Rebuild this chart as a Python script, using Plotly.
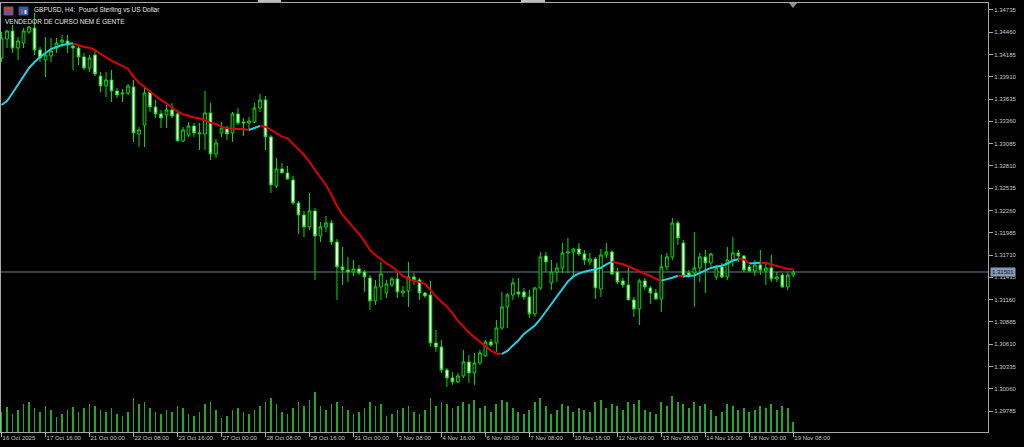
import plotly.graph_objects as go

# ---------------- data ----------------
bar_index = list(range(2, 147))  # H4 bar number counted from 16 Oct 2025 00:00

open_ = [1.34142, 1.34377, 1.34476, 1.34265, 1.34327, 1.34463, 1.34512, 1.34241, 1.34118, 1.34167,
         1.34265, 1.34339, 1.34352, 1.34290, 1.34265, 1.34155, 1.34019, 1.34179, 1.33920, 1.33797,
         1.33871, 1.33735, 1.33698, 1.33710, 1.33785, 1.33205, 1.33315, 1.33722, 1.33538, 1.33452,
         1.33439, 1.33501, 1.33452, 1.33118, 1.33192, 1.33303, 1.33205, 1.33205, 1.33464, 1.32958,
         1.33217, 1.33278, 1.33217, 1.33452, 1.33352, 1.33340, 1.33352, 1.33525, 1.33624, 1.33168,
         1.32563, 1.32773, 1.32723, 1.32637, 1.32353, 1.32205, 1.32057, 1.32255, 1.31946, 1.32057,
         1.32106, 1.31871, 1.31564, 1.31526, 1.31501, 1.31539, 1.31501, 1.31427, 1.31144, 1.31317,
         1.31242, 1.31341, 1.31415, 1.31242, 1.31267, 1.31440, 1.31403, 1.31242, 1.31217, 1.30625,
         1.30576, 1.30292, 1.30193, 1.30144, 1.30218, 1.30391, 1.30255, 1.30379, 1.30465, 1.30637,
         1.30625, 1.30810, 1.31070, 1.31217, 1.31254, 1.31254, 1.31193, 1.30984, 1.31304, 1.31699,
         1.31366, 1.31501, 1.31551, 1.31736, 1.31748, 1.31785, 1.31724, 1.31625, 1.31662, 1.31292,
         1.31711, 1.31748, 1.31501, 1.31391, 1.31341, 1.31156, 1.31045, 1.31391, 1.31304, 1.31242,
         1.31168, 1.31564, 1.31687, 1.32106, 1.31859, 1.31489, 1.31489, 1.31551, 1.31687, 1.31613,
         1.31440, 1.31564, 1.31440, 1.31650, 1.31736, 1.31699, 1.31564, 1.31514, 1.31588, 1.31514,
         1.31551, 1.31415, 1.31464, 1.31317, 1.31464]

high = [1.34463, 1.34488, 1.34549, 1.34402, 1.34512, 1.34537, 1.34698, 1.34278, 1.34402, 1.34389,
        1.34389, 1.34426, 1.34426, 1.34327, 1.34302, 1.34204, 1.34179, 1.34241, 1.33969, 1.33969,
        1.33994, 1.33772, 1.33760, 1.33822, 1.33871, 1.33291, 1.33772, 1.33747, 1.33624, 1.33501,
        1.33562, 1.33587, 1.33501, 1.33291, 1.33352, 1.33340, 1.33340, 1.33735, 1.33587, 1.33143,
        1.33352, 1.33303, 1.33476, 1.33525, 1.33402, 1.33415, 1.33587, 1.33698, 1.33673, 1.33192,
        1.32908, 1.32847, 1.32810, 1.32686, 1.32378, 1.32255, 1.32476, 1.32291, 1.32118, 1.32193,
        1.32143, 1.31909, 1.31810, 1.31687, 1.31650, 1.31588, 1.31526, 1.31464, 1.31403, 1.31625,
        1.31403, 1.31440, 1.31489, 1.31329, 1.31625, 1.31489, 1.31427, 1.31254, 1.31391, 1.30786,
        1.30662, 1.30317, 1.30267, 1.30255, 1.30539, 1.30477, 1.30502, 1.30539, 1.30662, 1.30675,
        1.30909, 1.31254, 1.31242, 1.31427, 1.31427, 1.31304, 1.31279, 1.31317, 1.31748, 1.31748,
        1.31650, 1.31613, 1.31859, 1.31921, 1.31797, 1.31859, 1.31773, 1.31736, 1.31687, 1.31785,
        1.31859, 1.31773, 1.31551, 1.31427, 1.31551, 1.31193, 1.31415, 1.31427, 1.31329, 1.31292,
        1.31711, 1.31736, 1.32168, 1.32131, 1.31896, 1.31526, 1.31995, 1.31736, 1.31773, 1.31736,
        1.31588, 1.31613, 1.31810, 1.31934, 1.31773, 1.31711, 1.31588, 1.31650, 1.31773, 1.31625,
        1.31711, 1.31501, 1.31489, 1.31489, 1.31526]

low = [1.34093, 1.34265, 1.34204, 1.34118, 1.34265, 1.34439, 1.34179, 1.34093, 1.33908, 1.34093,
       1.34204, 1.34278, 1.34204, 1.33994, 1.34056, 1.33994, 1.33969, 1.33920, 1.33722, 1.33661,
       1.33599, 1.33648, 1.33599, 1.33685, 1.33105, 1.33044, 1.33044, 1.33476, 1.33402, 1.33278,
       1.33278, 1.33402, 1.33118, 1.33105, 1.33168, 1.33168, 1.33007, 1.33007, 1.32884, 1.32908,
       1.33168, 1.33130, 1.33105, 1.33315, 1.33180, 1.33254, 1.33340, 1.33476, 1.33007, 1.32476,
       1.32538, 1.32723, 1.32637, 1.32328, 1.31971, 1.31934, 1.32020, 1.31403, 1.31871, 1.31995,
       1.31834, 1.31156, 1.31341, 1.31378, 1.31452, 1.31464, 1.31254, 1.31033, 1.31094, 1.31156,
       1.31180, 1.31317, 1.31180, 1.31193, 1.31070, 1.31341, 1.31156, 1.31180, 1.30576, 1.30514,
       1.30255, 1.30083, 1.30107, 1.30132, 1.30193, 1.30132, 1.30107, 1.30354, 1.30453, 1.30576,
       1.30514, 1.30786, 1.30810, 1.31156, 1.31193, 1.31156, 1.30934, 1.30947, 1.31279, 1.31501,
       1.31279, 1.31378, 1.31489, 1.31489, 1.31440, 1.31699, 1.31588, 1.31588, 1.31168, 1.31193,
       1.31674, 1.31464, 1.31354, 1.31304, 1.31156, 1.30947, 1.30847, 1.31279, 1.31107, 1.31156,
       1.31008, 1.31526, 1.31650, 1.31834, 1.31427, 1.31427, 1.31070, 1.31378, 1.31242, 1.31564,
       1.31403, 1.31427, 1.31403, 1.31564, 1.31625, 1.31501, 1.31501, 1.31452, 1.31464, 1.31341,
       1.31378, 1.31378, 1.31304, 1.31279, 1.31440]

close = [1.34389, 1.34476, 1.34265, 1.34352, 1.34476, 1.34525, 1.34241, 1.34142, 1.34179, 1.34229,
         1.34327, 1.34364, 1.34302, 1.34265, 1.34155, 1.34019, 1.34142, 1.33945, 1.33797, 1.33871,
         1.33735, 1.33685, 1.33710, 1.33797, 1.33217, 1.33254, 1.33710, 1.33538, 1.33452, 1.33402,
         1.33501, 1.33427, 1.33118, 1.33254, 1.33303, 1.33217, 1.33217, 1.33464, 1.32958, 1.33093,
         1.33278, 1.33205, 1.33452, 1.33340, 1.33340, 1.33365, 1.33525, 1.33624, 1.33168, 1.32575,
         1.32773, 1.32723, 1.32649, 1.32353, 1.32205, 1.32057, 1.32255, 1.31946, 1.32057, 1.32106,
         1.31871, 1.31564, 1.31526, 1.31501, 1.31539, 1.31489, 1.31440, 1.31144, 1.31317, 1.31477,
         1.31354, 1.31415, 1.31254, 1.31267, 1.31440, 1.31403, 1.31242, 1.31205, 1.30625, 1.30576,
         1.30292, 1.30193, 1.30144, 1.30218, 1.30391, 1.30255, 1.30379, 1.30502, 1.30637, 1.30600,
         1.30810, 1.31070, 1.31217, 1.31366, 1.31230, 1.31193, 1.30984, 1.31304, 1.31687, 1.31625,
         1.31501, 1.31551, 1.31736, 1.31748, 1.31785, 1.31724, 1.31650, 1.31662, 1.31304, 1.31711,
         1.31748, 1.31477, 1.31378, 1.31341, 1.31156, 1.31045, 1.31391, 1.31317, 1.31242, 1.31168,
         1.31564, 1.31687, 1.32106, 1.31921, 1.31452, 1.31452, 1.31551, 1.31687, 1.31613, 1.31724,
         1.31551, 1.31440, 1.31650, 1.31736, 1.31699, 1.31526, 1.31514, 1.31588, 1.31526, 1.31551,
         1.31415, 1.31440, 1.31317, 1.31464, 1.31501]

ma_values = [1.33562, 1.33612, 1.33710, 1.33809, 1.33920, 1.34019, 1.34093, 1.34155, 1.34204, 1.34253,
             1.34278, 1.34302, 1.34315, 1.34323, 1.34302, 1.34278, 1.34269, 1.34241, 1.34192, 1.34146,
             1.34109, 1.34077, 1.34044, 1.34007, 1.33912, 1.33834, 1.33788, 1.33726, 1.33677, 1.33624,
             1.33583, 1.33529, 1.33480, 1.33448, 1.33427, 1.33408, 1.33398, 1.33368, 1.33344, 1.33328,
             1.33294, 1.33274, 1.33272, 1.33267, 1.33262, 1.33254, 1.33282, 1.33303, 1.33294, 1.33254,
             1.33213, 1.33171, 1.33151, 1.33089, 1.33015, 1.32945, 1.32863, 1.32760, 1.32665, 1.32575,
             1.32451, 1.32316, 1.32205, 1.32131, 1.32057, 1.31971, 1.31884, 1.31773, 1.31711, 1.31662,
             1.31606, 1.31569, 1.31514, 1.31452, 1.31415, 1.31394, 1.31382, 1.31354, 1.31279, 1.31197,
             1.31135, 1.31074, 1.30992, 1.30897, 1.30827, 1.30753, 1.30696, 1.30642, 1.30580, 1.30531,
             1.30496, 1.30490, 1.30527, 1.30595, 1.30656, 1.30736, 1.30786, 1.30841, 1.30921, 1.31014,
             1.31094, 1.31187, 1.31292, 1.31384, 1.31446, 1.31483, 1.31505, 1.31520, 1.31535, 1.31551,
             1.31594, 1.31629, 1.31614, 1.31597, 1.31569, 1.31541, 1.31514, 1.31485, 1.31452, 1.31417,
             1.31394, 1.31409, 1.31430, 1.31455, 1.31449, 1.31452, 1.31458, 1.31489, 1.31517, 1.31551,
             1.31569, 1.31578, 1.31606, 1.31643, 1.31659, 1.31655, 1.31606, 1.31610, 1.31614, 1.31611,
             1.31593, 1.31576, 1.31558, 1.31538, 1.31534]

tick_volume = [20000, 25000, 18000, 22000, 28000, 30000, 24000, 20000, 26000, 22000,
               15000, 18000, 22000, 25000, 20000, 24000, 28000, 26000, 22000, 20000,
               24000, 18000, 16000, 20000, 34000, 28000, 30000, 24000, 20000, 18000,
               22000, 20000, 26000, 24000, 18000, 16000, 20000, 28000, 30000, 22000,
               14000, 16000, 22000, 24000, 20000, 18000, 22000, 26000, 30000, 34000,
               28000, 20000, 18000, 24000, 30000, 26000, 32000, 40000, 26000, 22000,
               28000, 30000, 26000, 22000, 18000, 20000, 24000, 30000, 26000, 28000,
               16000, 18000, 22000, 24000, 26000, 20000, 18000, 22000, 34000, 26000,
               30000, 28000, 24000, 26000, 30000, 28000, 32000, 24000, 26000, 20000,
               28000, 32000, 30000, 24000, 20000, 18000, 22000, 30000, 34000, 26000,
               18000, 22000, 28000, 26000, 20000, 24000, 22000, 20000, 30000, 32000,
               24000, 28000, 26000, 22000, 30000, 28000, 32000, 22000, 20000, 18000,
               30000, 26000, 36000, 30000, 28000, 24000, 30000, 26000, 28000, 22000,
               16000, 20000, 28000, 26000, 22000, 24000, 20000, 22000, 26000, 24000,
               28000, 22000, 26000, 24000, 10000]

time_tick_index = [2, 10, 18, 26, 34, 42, 50, 58, 66, 74, 82, 90, 98, 106, 114, 122, 130, 138, 146]
time_tick_labels = ["16 Oct 2025", "17 Oct 16:00", "21 Oct 00:00", "22 Oct 08:00", "23 Oct 16:00",
                    "27 Oct 00:00", "28 Oct 08:00", "29 Oct 16:00", "31 Oct 00:00", "3 Nov 08:00",
                    "4 Nov 16:00", "6 Nov 00:00", "7 Nov 08:00", "10 Nov 16:00", "12 Nov 00:00",
                    "13 Nov 08:00", "14 Nov 16:00", "18 Nov 00:00", "19 Nov 08:00"]

price_ticks = [1.34735, 1.34460, 1.34185, 1.33910, 1.33635, 1.33360, 1.33085, 1.32810, 1.32535, 1.32260,
               1.31985, 1.31710, 1.31435, 1.31160, 1.30885, 1.30610, 1.30335, 1.30060, 1.29785]

current_price = 1.31501
symbol_title = "GBPUSD, H4:  Pound Sterling vs US Dollar"
comment_text = "VENDEDOR DE CURSO NEM É GENTE"

# ---------------- styling ----------------
BG = "#000000"
CANDLE = "#00e000"
VOLUME = "#22a822"
MA_UP = "#1fd3e3"
MA_DOWN = "#e00000"
AXIS = "#a8a8a8"
TEXT = "#c8c8c8"
FONT = "Liberation Sans"

W, H = 1024, 447
ML, MR, MT, MB = 1, 36, 3, 15
PW, PH = W - ML - MR, H - MT - MB


def px_x(px):
    return (px - ML) / PW


def px_y(py):
    return (H - MB - py) / PH


fig = go.Figure()

fig.add_trace(go.Bar(
    x=bar_index, y=tick_volume, yaxis="y2", width=0.16,
    marker=dict(color=VOLUME, line=dict(width=0)), hoverinfo="skip", showlegend=False))

fig.add_trace(go.Candlestick(
    x=bar_index, open=open_, high=high, low=low, close=close,
    increasing=dict(line=dict(color=CANDLE, width=1), fillcolor="#000000"),
    decreasing=dict(line=dict(color=CANDLE, width=1), fillcolor="#ffffff"),
    whiskerwidth=0, showlegend=False))

# moving average, coloured by direction
segments = []
for k in range(len(ma_values) - 1):
    col = MA_UP if ma_values[k + 1] > ma_values[k] else MA_DOWN
    if segments and segments[-1][0] == col:
        segments[-1][1].append(k + 1)
    else:
        segments.append([col, [k, k + 1]])
for col, idxs in segments:
    fig.add_trace(go.Scatter(
        x=[bar_index[j] for j in idxs], y=[ma_values[j] for j in idxs],
        mode="lines", line=dict(color=col, width=2), hoverinfo="skip", showlegend=False))

shapes = [
    dict(type="line", xref="paper", yref="y", x0=0, x1=1, y0=current_price, y1=current_price,
         line=dict(color="#6e7f90", width=1), layer="below"),
    # chart-shift marker
    dict(type="path", xref="paper", yref="paper",
         path=f"M {px_x(789)} {px_y(3)} L {px_x(797)} {px_y(3)} L {px_x(793)} {px_y(8)} Z",
         fillcolor="#909090", line=dict(width=0)),
    # small window icons next to the title
    dict(type="rect", xref="paper", yref="paper", x0=px_x(4), x1=px_x(13), y0=px_y(15), y1=px_y(7),
         fillcolor="#c8442f", line=dict(color="#3a5cc0", width=1)),
    dict(type="line", xref="paper", yref="paper", x0=px_x(6), x1=px_x(11), y0=px_y(10), y1=px_y(10),
         line=dict(color="#3a5cc0", width=1)),
    dict(type="line", xref="paper", yref="paper", x0=px_x(6), x1=px_x(11), y0=px_y(12.5), y1=px_y(12.5),
         line=dict(color="#3a5cc0", width=1)),
    dict(type="rect", xref="paper", yref="paper", x0=px_x(19), x1=px_x(28), y0=px_y(15), y1=px_y(7),
         fillcolor="#2f5ca8", line=dict(color="#2f5ca8", width=1)),
    dict(type="rect", xref="paper", yref="paper", x0=px_x(21), x1=px_x(23), y0=px_y(14), y1=px_y(9),
         fillcolor="#d04a3a", line=dict(width=0)),
    dict(type="rect", xref="paper", yref="paper", x0=px_x(24.5), x1=px_x(26.5), y0=px_y(14), y1=px_y(10),
         fillcolor="#e8e8e8", line=dict(width=0)),
    # tabs above the chart frame
    dict(type="rect", xref="paper", yref="paper", x0=px_x(258), x1=px_x(281), y0=px_y(2), y1=px_y(0),
         fillcolor="#bdbdbd", line=dict(width=0)),
    dict(type="rect", xref="paper", yref="paper", x0=px_x(521), x1=px_x(545), y0=px_y(2), y1=px_y(0),
         fillcolor="#bdbdbd", line=dict(width=0)),
]

annotations = [
    dict(text=symbol_title, xref="paper", yref="paper", x=px_x(32), y=px_y(10),
         xanchor="left", yanchor="middle", showarrow=False,
         font=dict(family=FONT, size=6.5, color="#e6e6e6")),
    dict(text=comment_text, xref="paper", yref="paper", x=px_x(3), y=px_y(21),
         xanchor="left", yanchor="middle", showarrow=False,
         font=dict(family=FONT, size=6.5, color="#e6e6e6")),
    dict(text=f"{current_price:.5f}", xref="paper", yref="y", x=1, xshift=2, y=current_price,
         xanchor="left", yanchor="middle", showarrow=False, bgcolor="#8799b3",
         borderpad=1, font=dict(family=FONT, size=6, color="#0b1030")),
]

fig.update_layout(
    width=W, height=H,
    margin=dict(l=ML, r=MR, t=MT, b=MB, pad=0),
    paper_bgcolor=BG, plot_bgcolor=BG,
    showlegend=False,
    bargap=0,
    shapes=shapes,
    annotations=annotations,
    xaxis=dict(
        range=[1.9, 181.4], rangeslider=dict(visible=False),
        showgrid=False, zeroline=False, automargin=False,
        showline=True, linecolor=AXIS, linewidth=1, mirror=True,
        tickmode="array", tickvals=time_tick_index, ticktext=time_tick_labels,
        ticks="outside", ticklen=4, tickcolor=AXIS, tickwidth=1, tickangle=0,
        ticklabelposition="outside right",
        tickfont=dict(family=FONT, size=6, color=TEXT),
    ),
    yaxis=dict(
        range=[1.29526, 1.34821], side="right",
        showgrid=False, zeroline=False, automargin=False,
        showline=True, linecolor=AXIS, linewidth=1, mirror=True,
        tickmode="array", tickvals=price_ticks, ticktext=[f"{v:.5f}" for v in price_ticks],
        ticks="outside", ticklen=4, tickcolor=AXIS, tickwidth=1,
        tickfont=dict(family=FONT, size=6, color=TEXT),
    ),
    yaxis2=dict(range=[0, 429000], overlaying="y", visible=False, fixedrange=True),
)

fig.write_html("out.html", config={"displayModeBar": False},
               post_script="document.body.style.margin='0px';document.body.style.overflow='hidden';")
